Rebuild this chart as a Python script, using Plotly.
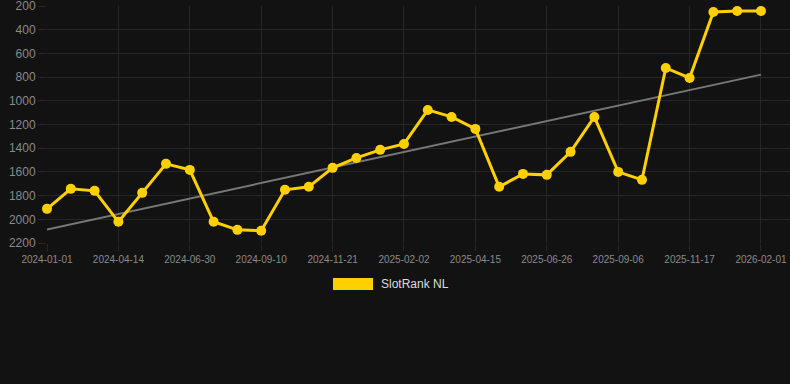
import plotly.graph_objects as go

dates = [
    "2024-01-01", "2024-02-04", "2024-03-10", "2024-04-14", "2024-05-10", "2024-06-05",
    "2024-06-30", "2024-07-24", "2024-08-17", "2024-09-10", "2024-10-04", "2024-10-28",
    "2024-11-21", "2024-12-15", "2025-01-09", "2025-02-02", "2025-02-26", "2025-03-22",
    "2025-04-15", "2025-05-09", "2025-06-02", "2025-06-26", "2025-07-20", "2025-08-13",
    "2025-09-06", "2025-09-30", "2025-10-24", "2025-11-17", "2025-12-12", "2026-01-06",
    "2026-02-01",
]
rank_nl = [
    1912, 1743, 1760, 2021, 1777, 1532, 1583, 2021, 2089, 2097, 1751, 1726,
    1566, 1482, 1414, 1364, 1077, 1136, 1237, 1726, 1617, 1625, 1431, 1136,
    1600, 1667, 723, 807, 251, 242, 242,
]
trend_x = [dates[0], dates[-1]]
trend_y = [2086, 779]
tick_labels = dates[::3]
y_ticks = [200, 400, 600, 800, 1000, 1200, 1400, 1600, 1800, 2000, 2200]

BG = "#121212"
GRID = "#262626"
YELLOW = "#FFD000"
FONT = "Liberation Sans, Arial, sans-serif"

fig = go.Figure()
fig.add_trace(go.Scatter(
    x=trend_x, y=trend_y, mode="lines",
    line=dict(color="#777777", width=2), hoverinfo="skip", showlegend=False,
    cliponaxis=False,
))
fig.add_trace(go.Scatter(
    x=dates, y=rank_nl, mode="lines+markers", name="SlotRank NL",
    line=dict(color=YELLOW, width=3),
    marker=dict(color=YELLOW, size=10),
    showlegend=False, cliponaxis=False,
))

# custom legend (wide colour box + label)
fig.add_shape(type="rect", xref="paper", yref="paper",
              x0=0.3849, x1=0.4388, y0=-0.1983, y1=-0.1477,
              fillcolor=YELLOW, line=dict(width=0))
fig.add_annotation(xref="paper", yref="paper", x=0.4468, y=-0.173,
                   text="SlotRank NL", showarrow=False, xanchor="left", yanchor="middle",
                   font=dict(family=FONT, size=12, color="#dddddd"))

fig.update_layout(
    width=790, height=384,
    margin=dict(l=47, r=0, t=6, b=141),
    paper_bgcolor=BG, plot_bgcolor=BG,
    font=dict(family=FONT),
    showlegend=False,
    xaxis=dict(
        type="category", categoryorder="array", categoryarray=dates,
        range=[0, 31.22],
        tickmode="array", tickvals=tick_labels, ticktext=tick_labels,
        showgrid=True, gridcolor=GRID, gridwidth=1,
        ticks="outside", ticklen=7, tickcolor=GRID,
        tickfont=dict(size=10, color="#8a8a8a"),
        showline=False, zeroline=False,
    ),
    yaxis=dict(
        range=[2200, 200],
        tickmode="array", tickvals=y_ticks,
        showgrid=True, gridcolor=GRID, gridwidth=1,
        ticks="outside", ticklen=8, tickcolor=GRID,
        tickfont=dict(size=12, color="#8a8a8a"),
        ticklabeloverflow="allow",
        showline=False, zeroline=False,
    ),
)

fig.write_html("out.html")
